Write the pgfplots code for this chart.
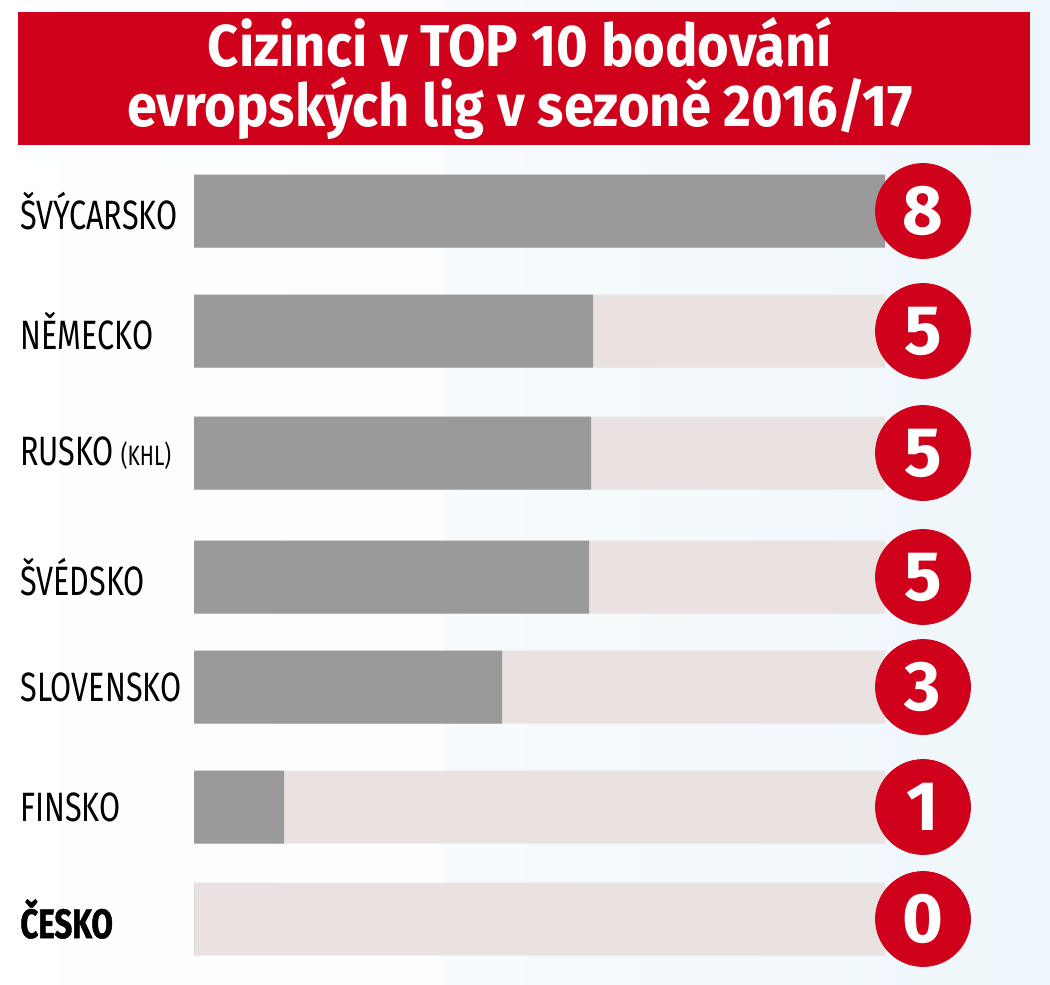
\documentclass[border=0pt]{standalone}
\usepackage{pgfplots}
\pgfplotsset{compat=1.18}
\usepackage{pgfplotstable}
\usepackage{fontspec}
\setmainfont{Fira Sans}[FakeStretch=0.745]
\newfontfamily\titlefont{Fira Sans}[FakeStretch=0.92]
\newfontfamily\numfont{Fira Sans}
\newfontfamily\heavyfont{Fira Sans}[FakeStretch=0.76, FakeBold=1.2]
\definecolor{cred}{HTML}{D0021B}
\definecolor{cgray}{HTML}{9A9A9A}
\definecolor{ctrack}{HTML}{E9E2E0}
\definecolor{cbg}{HTML}{CBE3F2}
\definecolor{cbgr}{HTML}{EEF6FB}

\pgfplotstableread{
y   track bar cx  score
211 691   691 729 8
331 691   399 729 5
453 691   397 729 5
577 691   395 729 5
687 691   308 729 3
807 691   90  729 1
919 691   0   729 0
}\data

\begin{document}
\begin{tikzpicture}
\begin{axis}[
  scale only axis,
  width=525pt, height=492.5pt,
  xmin=-194, xmax=856,
  ymin=0, ymax=985,
  y dir=reverse,
  hide axis,
  clip=false,
]
% background
\shade[left color=white, middle color=cbg, right color=cbgr]
  (axis cs:-194,0) rectangle (axis cs:856,985);
\shade[left color=white, right color=white, middle color=white, opacity=0.5]
  (axis cs:-194,0) rectangle (axis cs:250,985);
% title banner
\fill[cred] (axis cs:-176,12) rectangle (axis cs:836,145);
\node[text=white, align=center, inner sep=0pt,
  font=\titlefont\bfseries\fontsize{29.5}{30}\selectfont]
  at (axis cs:326,78) {Cizinci v TOP 10 bodování\\evropských lig v sezoně 2016/17};
% track bars
\addplot[xbar, bar shift=0pt, bar width=73, fill=ctrack, draw=none]
  table[x=track, y=y]{\data};
% value bars
\addplot[xbar, bar shift=0pt, bar width=73, fill=cgray, draw=none]
  table[x=bar, y=y]{\data};
% circles with numbers
\addplot[only marks, mark=*, mark size=23.75pt, color=cred,
  mark options={draw=cred, fill=cred},
  nodes near coords, point meta=explicit symbolic,
  every node near coord/.append style={anchor=center, text=white,
    font=\numfont\bfseries\fontsize{35}{35}\selectfont}]
  table[x=cx, y=y, meta=score]{\data};
% category labels
\begin{scope}[every node/.style={anchor=west, inner sep=0pt, font=\fontsize{20.5}{22}\selectfont, text=black}]
\node at (axis cs:-174,211) {ŠVÝCARSKO};
\node at (axis cs:-174,331) {NĚMECKO};
\node at (axis cs:-174,453) {RUSKO\,{\fontsize{14}{15}\selectfont(KHL)}};
\node at (axis cs:-174,577) {ŠVÉDSKO};
\node at (axis cs:-174,687) {SLOVENSKO};
\node at (axis cs:-174,807) {FINSKO};
\node[font=\heavyfont\bfseries\fontsize{20.5}{22}\selectfont] at (axis cs:-174,919) {ČESKO};
\end{scope}
\end{axis}
\end{tikzpicture}
\end{document}
